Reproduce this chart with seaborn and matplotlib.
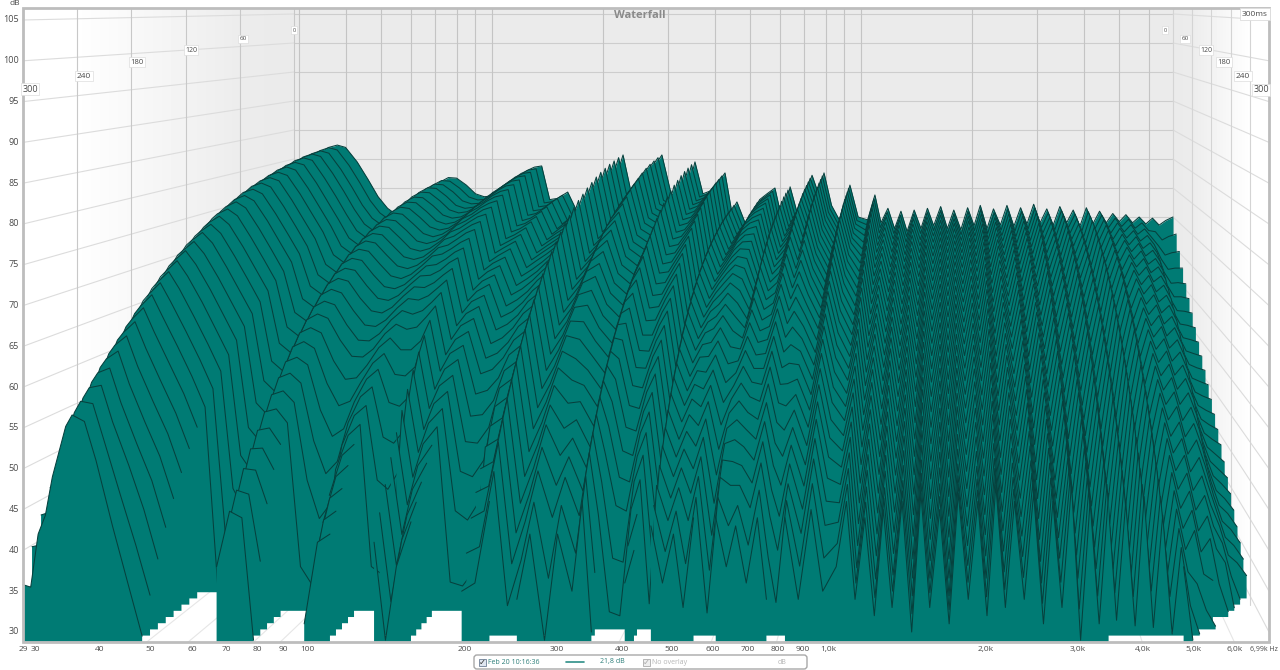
import numpy as np
import pylab as plt
import seaborn as sns
from matplotlib.patches import Polygon, Rectangle, FancyBboxPatch

# levels in tenths of a dB, read per frequency, one value every 10 ms from 0 to 300 ms
f0029 = [790,786,781,776,770,763,756,748,740,731,722,712,701,690,678,665,652,638,623,608,592,575,558,540,521,502,481,459,431,398,358]
f0030 = [795,791,786,781,775,768,761,753,745,736,727,717,706,695,683,670,657,643,628,613,597,580,563,545,526,506,485,462,434,400,355]
f0031 = [800,797,793,788,782,776,769,762,754,746,737,727,717,706,695,683,670,657,643,628,612,596,579,561,543,524,504,484,463,441,420]
f0032 = [805,802,798,794,789,783,777,770,763,755,746,737,727,717,706,695,683,670,657,643,629,614,598,582,565,547,529,510,488,465,443]
f0033 = [810,808,805,801,797,792,786,780,774,767,759,751,742,733,723,713,702,690,678,665,651,637,622,607,591,575,558,541,524,507,490]
f0035 = [815,813,811,808,805,801,797,792,787,781,775,768,761,754,745,736,727,717,706,695,683,671,658,645,632,619,606,592,577,564,552]
f0036 = [820,818,816,814,811,807,803,798,793,788,782,775,768,761,752,743,734,724,714,703,692,680,668,655,642,630,617,604,590,578,566]
f0038 = [824,823,821,819,816,812,808,803,798,793,787,781,775,768,761,753,745,736,727,717,706,695,683,670,656,642,627,610,593,575,558]
f0040 = [820,819,817,815,812,808,803,798,793,787,780,773,766,758,749,740,730,719,708,696,683,669,654,638,621,603,585,566,547,528,510]
f0043 = [795,793,790,787,783,779,774,769,763,757,750,743,735,726,717,707,696,685,673,660,645,630,614,596,577,557,536,514,493,461,430]
f0046 = [765,763,760,757,753,748,743,738,732,726,719,711,703,694,684,674,662,650,637,623,608,592,575,557,537,516,493,468,438,400,360]
f0049 = [735,733,730,727,723,719,714,709,703,696,689,681,672,663,653,642,630,617,603,588,571,553,534,513,491,466,439,409,376,338,295]
f0052 = [715,712,708,703,697,690,682,673,663,652,640,626,611,595,577,557,535,510,482,450,412,360,300,270,255,245,240,238,236,235,234]
f0056 = [700,697,693,688,682,675,667,658,648,637,625,611,596,579,560,539,515,488,457,420,372,305,262,240,228,220,215,212,210,208,206]
f0060 = [710,707,703,698,692,685,677,668,658,647,635,621,606,589,570,549,525,497,465,428,380,310,262,238,225,216,210,206,203,201,200]
f0064 = [725,723,720,716,711,705,698,690,681,671,660,648,635,620,604,586,566,544,519,491,459,422,378,325,285,265,255,250,255,262,270]
f0068 = [745,744,742,739,736,732,727,722,716,710,703,695,686,677,667,656,644,631,617,602,586,569,551,531,510,488,465,441,420,400,380]
f0072 = [760,759,757,755,752,748,744,740,735,729,723,716,709,701,692,682,672,661,649,636,623,609,594,578,561,544,526,508,489,468,448]
f0076 = [768,767,765,763,760,756,752,748,743,737,731,724,717,709,700,690,680,669,657,644,630,616,600,584,566,548,529,509,487,463,440]
f0080 = [767,766,764,762,759,755,751,746,741,735,729,722,714,706,697,687,676,664,652,638,623,607,590,571,551,530,508,482,445,380,290]
f0085 = [755,754,752,749,746,742,737,732,726,720,713,705,696,687,676,665,652,639,624,608,585,560,530,495,450,345,275,250,243,240,238]
f0090 = [740,739,737,734,731,727,722,717,711,704,697,689,680,670,659,647,634,619,603,586,560,530,495,452,400,320,265,242,232,225,220]
f0095 = [735,734,732,729,726,722,717,712,706,700,693,685,676,666,656,644,631,617,602,585,562,536,505,468,420,345,280,250,238,230,225]
f0100 = [736,735,733,731,728,724,720,715,710,704,697,689,681,672,662,651,639,626,612,596,579,561,541,519,495,470,443,415,385,349,310]
f0106 = [745,744,742,740,737,733,729,725,720,714,708,701,693,685,676,666,655,643,631,617,603,587,571,553,534,514,494,473,452,431,410]
f0112 = [760,759,757,755,752,748,744,739,734,728,722,715,707,699,689,679,668,656,644,630,616,600,584,566,547,528,508,487,464,442,420]
f0118 = [770,769,767,764,761,757,752,747,741,735,728,720,711,702,691,680,667,654,639,623,600,572,540,500,450,345,275,250,240,235,232]
f0124 = [780,779,777,774,771,767,762,757,751,744,737,729,720,710,699,687,674,660,644,626,600,570,535,492,438,335,270,248,238,232,228]
f0130 = [786,785,783,781,778,774,769,764,758,752,745,737,729,719,709,698,685,671,656,640,612,582,548,508,460,355,285,262,255,262,280]
f0136 = [788,787,785,783,780,776,772,767,762,756,749,742,734,725,715,705,694,682,669,655,640,624,607,588,568,546,523,497,469,440,410]
f0143 = [730,729,727,725,722,718,714,709,703,697,690,682,674,665,654,643,631,618,604,588,571,552,532,510,486,460,431,400,368,330,290]
f0150 = [732,731,729,727,725,722,718,714,709,704,698,691,684,676,667,657,647,635,623,609,595,579,562,544,524,503,481,457,431,406,380]
f0160 = [743,742,741,739,736,733,729,725,720,714,708,701,693,685,676,667,656,645,633,620,606,592,576,560,543,525,507,490,472,453,435]
f0170 = [708,707,705,703,700,696,692,687,681,675,668,660,651,642,631,620,607,593,578,562,540,516,488,455,410,325,270,248,240,235,232]
f0180 = [720,719,717,715,712,708,703,698,692,686,679,670,661,651,640,628,615,601,585,568,545,518,486,448,398,320,268,246,236,230,226]
f0190 = [728,727,725,723,720,717,712,707,702,696,689,681,672,663,652,641,628,615,600,584,562,537,507,470,422,340,280,255,245,245,250]
f0200 = [735,734,733,731,728,725,721,717,712,707,700,693,686,677,668,658,647,635,622,608,593,577,559,540,520,499,477,453,427,390,350]
f0212 = [750,749,748,746,743,740,736,732,727,721,715,708,700,691,681,671,660,648,635,621,606,589,571,552,531,509,486,461,436,398,360]
f0226 = [807,806,804,802,799,796,792,787,782,776,770,763,755,747,738,728,718,707,695,682,668,653,637,620,603,585,566,546,522,491,460]
f0240 = [730,729,727,725,722,718,714,709,703,697,690,682,674,665,655,644,632,619,605,589,572,553,533,511,487,461,433,402,370,325,280]
f0255 = [745,744,742,740,737,734,730,725,720,714,708,701,693,684,675,665,654,642,629,615,600,583,565,546,525,502,478,451,423,381,340]
f0270 = [780,779,777,775,772,769,765,760,755,749,743,736,728,719,710,700,690,678,666,653,639,624,608,591,573,553,533,510,486,453,420]
f0288 = [807,806,804,802,799,795,790,785,779,772,765,756,747,737,726,714,701,687,672,656,638,619,598,575,550,523,494,462,428,359,290]
f0305 = [740,739,738,736,733,730,727,723,718,713,707,701,694,686,678,669,659,648,637,625,612,598,583,568,552,534,516,498,478,449,420]
f0325 = [730,729,728,726,723,720,716,712,707,701,695,688,680,672,663,653,642,630,618,604,590,574,558,540,520,499,478,455,430,390,350]
f0340 = [750,749,748,746,744,741,738,734,730,725,720,714,708,701,693,685,676,667,656,645,634,621,608,594,579,563,546,528,509,485,460]
f0354 = [795,794,792,790,787,783,779,774,768,762,755,747,738,729,718,707,695,682,668,652,636,618,598,576,552,526,497,466,432,366,300]
f0372 = [740,739,737,735,732,728,724,719,713,707,700,692,683,674,663,651,638,625,610,594,576,557,536,513,488,460,430,370,310,270,255]
f0390 = [745,744,742,740,737,733,728,723,717,711,703,695,686,676,665,653,640,626,610,593,575,554,532,508,482,454,423,365,305,268,250]
f0410 = [760,759,757,755,752,748,744,739,734,728,722,715,707,698,689,678,667,655,642,628,612,596,578,559,539,517,493,467,438,399,360]
f0427 = [776,775,773,771,768,765,761,756,751,745,739,732,724,716,707,697,686,674,661,648,633,618,601,583,564,544,523,500,475,438,400]
f0445 = [710,709,707,705,702,699,695,690,685,679,672,665,657,648,638,627,615,602,588,573,556,538,519,498,475,451,424,375,320,275,255]
f0460 = [726,725,724,722,720,717,713,709,705,700,694,688,681,674,666,657,647,637,626,614,601,587,573,557,541,524,506,487,468,449,430]
f0484 = [690,689,688,686,684,681,677,673,669,664,658,652,645,637,629,620,610,600,589,577,564,550,536,520,503,486,467,446,424,392,360]
f0508 = [707,706,705,703,701,698,695,691,687,682,677,671,665,658,650,642,633,623,613,602,590,577,564,550,535,519,502,484,465,442,420]
f0530 = [730,729,727,725,723,720,716,712,707,701,695,688,681,673,664,654,643,631,619,605,591,575,558,540,521,500,477,452,424,377,330]
f0555 = [740,739,738,736,734,731,727,723,718,713,707,701,694,686,678,669,659,648,637,625,612,598,583,568,552,535,517,498,479,459,440]
f0583 = [750,749,747,745,742,738,733,728,722,715,708,700,691,681,670,658,645,631,616,599,581,561,540,516,490,463,433,399,362,316,270]
f0612 = [690,689,688,687,685,682,679,676,672,668,663,658,652,646,639,631,623,615,606,596,585,574,562,550,537,523,509,494,478,459,440]
f0641 = [752,751,750,748,745,742,738,734,729,724,718,711,704,696,687,678,668,657,645,632,618,604,588,571,553,534,514,492,468,424,380]
f0668 = [710,709,708,706,704,701,698,694,690,685,680,674,668,661,653,645,636,626,616,605,593,580,567,553,538,522,505,487,468,449,430]
f0700 = [730,729,727,725,723,720,716,712,707,702,696,689,682,674,665,655,645,634,622,609,595,580,564,547,529,509,488,465,440,400,360]
f0735 = [772,771,769,767,765,762,758,754,749,743,737,731,723,715,706,697,687,676,664,651,638,623,608,592,575,556,537,517,496,468,440]
f0765 = [740,739,737,735,732,729,725,721,716,710,704,697,689,681,672,662,651,639,626,612,597,581,564,545,525,504,481,456,429,385,340]
f0792 = [776,775,773,771,768,764,760,755,749,742,735,727,718,708,697,685,672,658,643,626,607,587,565,541,515,487,456,423,387,329,270]
f0830 = [720,719,718,716,714,711,708,704,699,694,689,683,676,669,661,652,643,633,622,610,598,585,571,556,541,524,507,489,470,455,440]
f0880 = [690,689,688,686,683,680,677,673,668,663,657,651,644,636,628,619,609,598,586,574,560,545,530,513,495,476,455,432,408,374,340]
f0931 = [755,754,752,750,748,745,741,737,733,728,722,716,709,702,694,686,676,666,656,644,632,619,605,590,574,557,540,521,501,476,450]
f0980 = [700,699,698,696,693,690,687,683,678,673,667,661,654,646,638,629,619,608,596,584,570,555,540,523,505,486,465,442,418,384,350]
f1040 = [695,692,688,684,678,672,666,660,652,645,637,630,621,613,604,595,585,575,564,553,541,529,516,502,488,473,457,440,422,402,380]
f1088 = [738,736,733,729,725,720,715,709,703,696,689,682,674,666,657,648,638,628,618,607,595,583,571,558,545,531,517,503,489,475,460]
f1130 = [690,687,683,678,673,667,660,653,645,637,628,619,609,599,588,577,565,553,540,526,512,497,481,464,446,427,407,386,365,353,340]
f1180 = [715,713,710,706,702,697,692,686,680,673,666,659,651,643,634,625,616,606,595,584,573,561,549,536,523,509,495,481,466,453,440]
f1230 = [680,677,673,668,662,656,649,642,634,626,617,608,598,588,577,566,554,541,528,514,499,484,468,451,433,414,394,373,351,335,320]
f1280 = [710,708,705,701,697,692,687,681,675,668,661,654,646,638,629,620,611,601,591,580,569,557,545,533,520,507,494,480,465,458,450]
f1330 = [675,672,668,663,658,652,645,638,630,622,613,604,594,584,573,562,550,538,525,511,497,482,466,450,433,415,396,376,356,343,330]
f1390 = [712,710,707,703,699,694,689,683,677,671,664,657,649,641,632,623,614,604,594,584,573,562,550,538,526,513,500,487,474,467,460]
f1450 = [680,677,672,667,661,654,647,639,630,621,611,601,590,578,566,553,540,526,511,495,479,462,444,425,405,384,362,345,330,315,300]
f1510 = [715,713,710,707,703,698,693,688,682,675,669,661,654,646,637,629,620,610,600,590,579,568,557,545,533,520,507,494,483,476,470]
f1570 = [685,682,678,673,667,661,654,646,638,629,620,610,600,589,577,565,552,539,525,510,495,479,462,445,426,407,387,367,352,341,330]
f1640 = [718,716,713,709,705,700,695,689,682,676,669,661,653,645,636,627,617,607,597,586,575,563,551,538,525,512,498,484,470,460,450]
f1710 = [680,677,672,667,661,654,646,638,629,620,610,599,588,576,564,551,537,523,508,492,476,459,441,422,403,383,362,345,330,320,310]
f1780 = [712,710,707,704,700,695,690,684,678,672,665,658,650,642,634,625,616,606,596,586,575,564,552,540,528,515,502,489,480,475,470]
f1860 = [678,675,671,666,661,655,648,641,633,625,616,607,597,587,576,565,553,541,528,515,501,486,471,455,439,422,404,386,368,354,340]
f1940 = [716,714,711,708,703,699,694,688,682,675,668,660,652,644,635,626,616,606,596,585,574,562,550,538,525,512,499,486,476,468,460]
f2020 = [685,682,678,673,667,661,654,647,638,630,620,611,600,590,578,566,554,541,527,513,498,482,466,449,431,412,393,373,352,336,320]
f2100 = [720,718,715,712,708,703,698,693,687,680,673,666,658,650,641,632,623,613,603,593,582,571,559,547,535,522,509,496,489,485,480]
f2190 = [680,677,673,668,662,656,649,642,634,625,616,607,597,586,575,564,552,539,526,512,498,483,467,451,434,416,398,379,360,345,330]
f2280 = [714,712,709,706,702,697,692,687,681,674,667,660,652,644,636,627,617,607,597,587,576,565,553,541,529,516,503,490,478,469,460]
f2380 = [686,683,679,675,669,663,657,650,642,634,625,616,606,596,586,575,563,551,538,525,511,497,482,466,450,433,416,398,379,360,340]
f2480 = [720,718,715,711,707,702,697,692,686,679,672,665,657,649,640,631,622,612,602,591,580,569,557,545,532,519,506,493,483,476,470]
f2590 = [684,681,677,672,666,660,653,645,637,628,619,609,599,588,576,564,551,538,524,509,494,478,461,444,426,407,387,366,346,328,310]
f2700 = [716,714,711,708,703,699,694,688,682,675,668,661,653,645,636,627,618,608,598,587,576,565,553,541,529,516,503,490,477,469,460]
f2810 = [688,685,681,676,671,665,658,651,643,635,626,617,607,597,586,575,564,551,539,525,511,497,482,466,450,433,415,396,377,354,330]
f2930 = [722,720,717,714,709,705,700,694,688,682,675,667,659,651,642,633,624,614,604,593,582,571,559,547,535,522,509,496,488,484,480]
f3050 = [690,687,683,678,672,666,659,651,643,635,625,616,605,595,583,571,558,545,531,517,502,486,469,452,434,415,395,374,352,321,290]
f3180 = [714,712,709,706,702,697,692,687,681,674,667,660,652,644,635,626,617,607,597,587,576,565,553,541,529,516,503,490,477,468,460]
f3310 = [686,683,679,674,669,662,656,648,640,632,623,614,604,593,582,571,559,546,533,519,505,490,474,458,441,423,404,384,364,337,310]
f3450 = [718,716,713,710,706,701,696,690,684,678,671,663,655,647,639,630,620,610,600,589,578,567,555,543,531,518,505,492,480,475,470]
f3600 = [690,687,683,678,672,665,658,650,642,633,623,613,602,591,579,566,553,539,524,509,493,476,458,440,421,400,379,357,334,307,280]
f3750 = [712,710,707,703,699,694,689,683,677,671,664,656,648,640,631,622,612,602,592,581,570,558,546,534,521,507,494,480,466,453,440]
f3910 = [684,681,677,672,666,659,652,644,636,627,617,607,596,585,573,560,547,533,519,503,487,470,453,434,415,395,374,352,329,300,270]
f4070 = [716,714,711,708,703,698,693,687,681,675,667,660,652,643,635,625,616,606,595,584,573,561,549,537,524,511,497,483,469,460,450]
f4240 = [688,685,681,676,670,663,656,649,640,631,622,611,601,589,577,565,552,538,524,509,493,476,459,441,422,402,381,359,336,298,260]
f4420 = [710,708,705,701,697,692,686,680,674,667,660,652,644,635,626,617,607,596,586,574,563,551,538,525,512,498,484,469,454,437,420]
f4610 = [690,687,683,678,672,665,658,650,641,632,622,612,601,589,577,564,550,536,521,506,489,472,454,436,416,396,374,352,329,290,250]
f4800 = [706,703,700,696,691,686,680,673,666,659,651,642,633,623,613,602,591,579,567,554,541,527,513,498,482,466,449,432,414,397,380]
f5000 = [692,689,685,680,674,668,661,654,646,637,628,618,608,597,586,574,561,548,534,520,505,489,473,456,438,420,401,381,360,325,290]
f5210 = [704,701,697,692,687,681,674,667,659,651,642,632,622,612,601,589,577,564,551,537,523,508,492,476,459,442,424,405,345,290,270]
f5430 = [690,686,681,675,668,661,653,645,636,626,616,605,594,582,570,557,543,529,514,498,482,465,448,430,411,391,371,350,312,270,240]
f5660 = [700,695,690,684,677,670,662,654,645,636,626,616,605,594,582,570,557,544,530,516,500,484,467,449,430,410,388,342,292,255,230]
f5900 = [688,682,676,669,661,653,644,635,625,615,604,593,581,569,556,543,529,515,500,485,468,450,431,411,390,368,330,287,255,225,200]
f6150 = [698,680,662,645,629,614,599,585,571,558,545,532,519,506,494,482,470,458,446,434,422,409,396,383,368,350,295,255,230,210,190]
f6410 = [686,666,646,628,611,595,579,564,549,535,521,507,493,480,467,454,441,428,415,402,389,375,361,345,325,292,255,230,205,180,160]
f6680 = [694,672,650,630,612,595,578,562,546,531,516,502,487,473,459,445,431,417,404,391,378,364,350,335,295,260,235,210,185,160,140]
f6990 = [700,676,652,630,610,592,575,558,542,527,512,497,482,467,452,437,420,405,390,375,360,346,332,318,285,255,225,200,170,140,110]

freqs = [29,30,31,32,33,35,36,38,40,43,46,49,52,56,60,64,68,72,76,80,85,90,95,100,106,112,118,124,130,136,143,150,160,170,180,190,200,
         212,226,240,255,270,288,305,325,340,354,372,390,410,427,445,460,484,508,530,555,583,612,641,668,700,735,765,792,830,880,931,980,
         1040,1088,1130,1180,1230,1280,1330,1390,1450,1510,1570,1640,1710,1780,1860,1940,2020,2100,2190,2280,2380,2480,2590,2700,2810,
         2930,3050,3180,3310,3450,3600,3750,3910,4070,4240,4420,4610,4800,5000,5210,5430,5660,5900,6150,6410,6680,6990]
rows = [f0029,f0030,f0031,f0032,f0033,f0035,f0036,f0038,f0040,f0043,f0046,f0049,f0052,f0056,f0060,f0064,f0068,f0072,f0076,f0080,f0085,
        f0090,f0095,f0100,f0106,f0112,f0118,f0124,f0130,f0136,f0143,f0150,f0160,f0170,f0180,f0190,f0200,f0212,f0226,f0240,f0255,f0270,
        f0288,f0305,f0325,f0340,f0354,f0372,f0390,f0410,f0427,f0445,f0460,f0484,f0508,f0530,f0555,f0583,f0612,f0641,f0668,f0700,f0735,
        f0765,f0792,f0830,f0880,f0931,f0980,f1040,f1088,f1130,f1180,f1230,f1280,f1330,f1390,f1450,f1510,f1570,f1640,f1710,f1780,f1860,
        f1940,f2020,f2100,f2190,f2280,f2380,f2480,f2590,f2700,f2810,f2930,f3050,f3180,f3310,f3450,f3600,f3750,f3910,f4070,f4240,f4420,
        f4610,f4800,f5000,f5210,f5430,f5660,f5900,f6150,f6410,f6680,f6990]

db_ticks = [105,100,95,90,85,80,75,70,65,60,55,50,45,40,35,30]
freq_ticks = [30,40,50,60,70,80,90,100,200,300,400,500,600,700,800,900,1000,2000,3000,4000,5000,6000]
freq_labels = ['29','30','40','50','60','70','80','90','100','200','300','400','500','600','700','800','900','1,0k','2,0k','3,0k','4,0k','5,0k','6,0k']
label_x = [23,35,100,150,192,226,257,283,307,465,557,622,672,713,748,778,803,828,986,1078,1143,1193,1235]
time_ticks = [0,60,120,180,240,300]

TEAL = '#007b74'
DARK = '#07403d'
FLOOR = 28.8

sns.set_style('white')
plt.rcParams['font.family'] = ['Open Sans', 'DejaVu Sans']

fig = plt.figure(figsize=(12.8, 6.7), dpi=100)
ax = fig.add_axes([0, 0, 1, 1])


# perspective box: back wall 294..1173, front frame 23..1269
def px(f, t):
    u = np.log(np.asarray(f, float) / 29) / np.log(6990 / 29)
    s = np.asarray(t, float) / 300
    return (294 + 879 * u) * (1 - s) + (23 + 1246 * u) * s


def py(db, t):
    s = np.asarray(t, float) / 300
    d = 105 - np.asarray(db, float)
    return (14 + d * 5.8) * (1 - s) + (20 + d * 8.16) * s


# walls
ax.add_patch(Rectangle((294, 8), 879, py(FLOOR, 0) - 8, fc='#ebebeb', ec='none', zorder=0))
grad = np.array([[1, 1, .985, .97, .955, .94, .925, .92]])
left = ax.imshow(grad, extent=(23, 294, 642, 8), cmap='gray', vmin=0, vmax=1, aspect='auto', zorder=0, interpolation='bilinear')
left.set_clip_path(Polygon([(23, 8), (294, 8), (294, py(FLOOR, 0)), (23, 642)], transform=ax.transData))
right = ax.imshow(grad[:, ::-1], extent=(1173, 1269, 642, 8), cmap='gray', vmin=0, vmax=1, aspect='auto', zorder=0, interpolation='bilinear')
right.set_clip_path(Polygon([(1173, 8), (1269, 8), (1269, 642), (1173, py(FLOOR, 0))], transform=ax.transData))

# grid
for db in db_ticks:
    yb, yf = py(db, 0), py(db, 300)
    ax.plot([294, 1173], [yb, yb], color='#cdcdcd', lw=.8, zorder=1)
    ax.plot([23, 294], [yf, yb], color='#dcdcdc', lw=.8, zorder=1)
    ax.plot([1173, 1269], [yb, yf], color='#dcdcdc', lw=.8, zorder=1)
for f in freq_ticks:
    ax.plot([px(f, 0), px(f, 0)], [8, py(FLOOR, 0)], color='#c4c4c4', lw=.8, zorder=1)
    ax.plot([px(f, 0), px(f, 300)], [py(FLOOR, 0), 642], color='#e6e6e6', lw=.8, zorder=1)
for t in time_ticks:
    ax.plot([px(29, t), px(29, t)], [8, py(FLOOR, t)], color='#c8c8c8', lw=.8, zorder=1)
    ax.plot([px(6990, t), px(6990, t)], [8, py(FLOOR, t)], color='#d4d4d4', lw=.8, zorder=1)

# slices, back to front
n_slices = min(len(r) for r in rows)
levels = np.array([r[:n_slices] for r in rows]) / 10
freq_arr = np.array(freqs, float)
for i in range(n_slices):
    t = i * 10
    lev = levels[:, i]
    keep = lev >= FLOOR
    xs = px(freq_arr, t)
    ys = py(lev, t)
    base = py(FLOOR, t)
    ax.fill_between(xs, ys, base, where=keep, color=TEAL, lw=0, zorder=10 + i * 2)
    # one line per stretch above the floor
    runs = np.split(np.arange(len(lev)), np.where(np.diff(keep.astype(int)) != 0)[0] + 1)
    for run in runs:
        if keep[run[0]] and len(run) > 1:
            sns.lineplot(x=xs[run], y=ys[run], color=DARK, lw=.75, sort=False, estimator=None,
                         legend=False, ax=ax, zorder=11 + i * 2)

# frame
ax.add_patch(Rectangle((23, 8), 1246, 634, fc='none', ec='#bdbdbd', lw=2, zorder=200))

# text
txt = '#4a4a4a'
for db in db_ticks:
    ax.text(19, py(db, 300), str(db), ha='right', va='center', fontsize=6.5, color=txt, zorder=210)
ax.text(15, 3.5, 'dB', ha='center', va='center', fontsize=6, color=txt)
for lab, x in zip(freq_labels, label_x):
    ax.text(x, 649.5, lab, ha='center', va='center', fontsize=6, color=txt)
ax.text(1278, 649.5, '6,99k Hz', ha='right', va='center', fontsize=5, color=txt)
ax.text(640, 15, 'Waterfall', ha='center', va='center', fontsize=8, fontweight='bold', color='#8a8a8a', zorder=210)
ax.text(1255, 14, '300ms', ha='center', va='center', fontsize=6, color=txt, zorder=210,
        bbox=dict(fc='white', ec='#dddddd', lw=.6, pad=1.5))

sizes = [4, 4.5, 5, 5.5, 6, 6.5]
left_pos = [(294, 30), (243, 39), (191, 50), (137, 62), (84, 76), (30, 89)]
right_pos = [(1165, 30), (1185, 39), (1206, 50), (1224, 62), (1243, 76), (1261, 90)]
for t, size, lp, rp in zip(time_ticks, sizes, left_pos, right_pos):
    for x, y in (lp, rp):
        ax.text(x, y, str(t), ha='center', va='center', fontsize=size, color=txt, zorder=210,
                bbox=dict(fc='white', ec='#dddddd', lw=.5, pad=1))

# legend strip
ax.add_patch(FancyBboxPatch((475, 656), 331, 12, boxstyle='round,pad=1,rounding_size=3', fc='white', ec='#a8a8a8', lw=1, zorder=205))
ax.add_patch(Rectangle((478.5, 658.5), 7, 7, fc='#dfe6f0', ec='#7f8ea3', lw=.7, zorder=206))
ax.text(482, 662, '\u2713', ha='center', va='center', fontsize=6, color='#333333', zorder=207, family='DejaVu Sans')
ax.text(488, 662, 'Feb 20 10:16:36', ha='left', va='center', fontsize=5, color='#2d7f7a', zorder=207)
ax.plot([566, 584], [662, 662], color='#2d8f88', lw=1.2, zorder=207)
ax.text(600, 662, '21,8 dB', ha='left', va='center', fontsize=5, color='#2d7f7a', zorder=207)
ax.add_patch(Rectangle((642.5, 658.5), 7, 7, fc='#eeeeee', ec='#b5b5b5', lw=.7, zorder=206))
ax.text(646, 662, '\u2713', ha='center', va='center', fontsize=6, color='#aaaaaa', zorder=207, family='DejaVu Sans')
ax.text(652, 662, 'No overlay', ha='left', va='center', fontsize=5, color='#b5b5b5', zorder=207)
ax.text(778, 662, 'dB', ha='left', va='center', fontsize=5, color='#b5b5b5', zorder=207)

ax.set_xlim(0, 1280)
ax.set_ylim(670, 0)
ax.axis('off')
fig.savefig('out.png', dpi=100, facecolor='white')
